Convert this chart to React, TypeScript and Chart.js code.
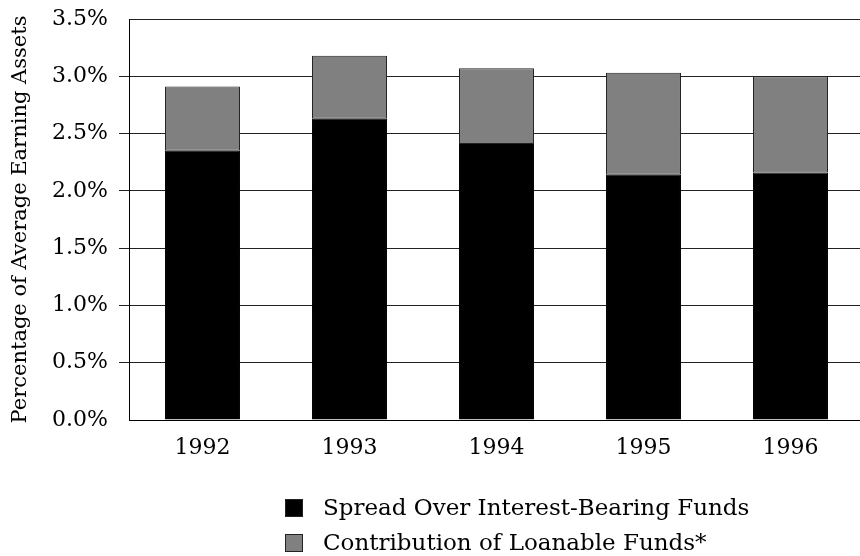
import React, { useEffect, useRef } from "react";
import { Chart, registerables } from "chart.js";

Chart.register(...registerables);

const categories = ["1992", "1993", "1994", "1995", "1996"];
const spreadValues = [2.35, 2.63, 2.41, 2.14, 2.16];
const loanableValues = [0.56, 0.55, 0.66, 0.89, 0.84];
const seriesLabels = ["Spread Over Interest-Bearing Funds", "Contribution of Loanable Funds*"];
const yTickValues = [0, 0.5, 1.0, 1.5, 2.0, 2.5, 3.0, 3.5];
const yTickLabels = ["0.0%", "0.5%", "1.0%", "1.5%", "2.0%", "2.5%", "3.0%", "3.5%"];
const yTitle = "Percentage of Average Earning Assets";

const FONT = "'DejaVu Serif', serif";

const legendPlugin = {
  id: "customLegend",
  afterDraw(chart: any) {
    const ctx = chart.ctx;
    ctx.save();
    const x0 = 285;
    const y0 = 499;
    const rowH = 35;
    const box = 18;
    chart.data.datasets.forEach((ds: any, i: number) => {
      const y = y0 + i * rowH;
      ctx.fillStyle = ds.backgroundColor;
      ctx.fillRect(x0, y, box, box);
      ctx.lineWidth = 1;
      ctx.strokeStyle = "#222";
      ctx.strokeRect(x0 + 0.5, y + 0.5, box - 1, box - 1);
      ctx.fillStyle = "#000";
      ctx.font = `23px ${FONT}`;
      ctx.textBaseline = "middle";
      ctx.textAlign = "left";
      ctx.fillText(ds.label, 323, y + box / 2 + 1);
    });
    ctx.restore();
  },
};

export default function App() {
  const ref = useRef<HTMLCanvasElement | null>(null);
  useEffect(() => {
    if (!ref.current) return;
    const chart = new Chart(ref.current, {
      type: "bar",
      data: {
        labels: categories,
        datasets: [
          {
            label: seriesLabels[0],
            data: spreadValues,
            backgroundColor: "#000000",
            borderColor: "#000000",
            borderWidth: 1,
            categoryPercentage: 1,
            barPercentage: 0.51,
          },
          {
            label: seriesLabels[1],
            data: loanableValues,
            backgroundColor: "#808080",
            borderColor: "#222222",
            borderWidth: 1,
            borderSkipped: false,
            categoryPercentage: 1,
            barPercentage: 0.51,
          },
        ],
      },
      options: {
        responsive: false,
        animation: false,
        layout: { padding: { left: 0, right: 0, top: 19, bottom: 0 } },
        plugins: {
          legend: { display: false },
          tooltip: { enabled: false },
        },
        scales: {
          x: {
            stacked: true,
            grid: { display: false, drawTicks: false },
            border: { display: true, color: "#000", width: 1 },
            ticks: {
              color: "#000",
              font: { family: FONT, size: 22 },
              padding: 15,
            },
            afterFit(scale: any) {
              scale.height = 136;
            },
          },
          y: {
            stacked: true,
            min: 0,
            max: 3.5,
            afterBuildTicks(scale: any) {
              scale.ticks = yTickValues.map((v) => ({ value: v }));
            },
            grid: {
              color: "#222",
              lineWidth: 1,
              drawTicks: true,
              tickLength: 10,
              tickColor: (c: any) =>
                c.tick && (c.tick.value === 0 || c.tick.value === 3.5) ? "rgba(0,0,0,0)" : "#222",
            },
            border: { display: true, color: "#000", width: 1 },
            ticks: {
              color: "#000",
              font: { family: FONT, size: 22 },
              padding: 11,
              callback: (v: any) => {
                const i = yTickValues.indexOf(Number(v));
                return i >= 0 ? yTickLabels[i] : "";
              },
            },
            title: {
              display: true,
              text: yTitle,
              color: "#000",
              font: { family: FONT, size: 21 },
              padding: { top: 8, bottom: 0 },
            },
            afterFit(scale: any) {
              scale.width = 129;
              scale.paddingTop = 0;
              scale.paddingBottom = 0;
            },
          },
        },
      },
      plugins: [legendPlugin],
    });
    return () => chart.destroy();
  }, []);
  return (
    <div style={{ position: "fixed", left: 0, top: 0, width: 860, height: 556, overflow: "hidden", background: "#fff" }}>
      <canvas ref={ref} width={864} height={556} style={{ display: "block" }} />
    </div>
  );
}
